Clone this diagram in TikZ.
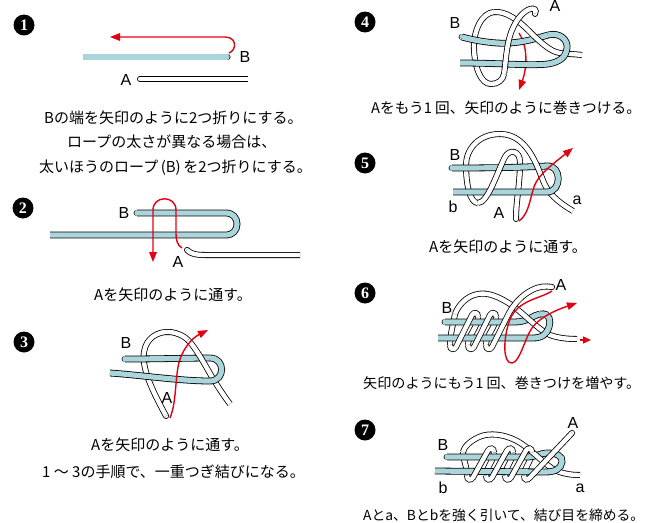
\documentclass[tikz,border=0pt]{standalone}
\usepackage{fontspec}
\setmainfont{Liberation Sans}
\newfontfamily\jpfont{Noto Sans CJK JP}
\newfontfamily\numfont{Liberation Serif}
\usetikzlibrary{arrows.meta}
\definecolor{ropeblue}{RGB}{170,213,218}
\definecolor{arrred}{RGB}{228,0,18}
\tikzset{
  brope/.style={draw=black, line width=0.8pt, double=ropeblue, double distance=5.2pt},
  wrope/.style={draw=black, line width=0.8pt, double=white, double distance=4.4pt},
  redarr/.style={draw=arrred, line width=1.4pt, -{Triangle[length=10pt,width=7.5pt]}},
  captext/.style={font=\jpfont\fontsize{15}{18}\selectfont, anchor=base west, inner sep=0pt},
  lbltext/.style={font=\fontsize{16}{18}\selectfont, anchor=base, inner sep=0pt},
  stepnum/.style={circle, fill=black, text=white, minimum size=21pt, inner sep=0pt, font=\numfont\bfseries\fontsize{16}{16}\selectfont},
}
\newcommand\rend[3]{\draw[#1, line cap=round] (#2,#3) -- ++(0.1,0);}
\newcommand\coilfront[4]{\draw[wrope] ({#1-6},{#3+#4-3}) .. controls ({#1-6},{#3+#4+2}) and ({#1-1.8},{#3+#4+2}) .. ({#1},{#3+#4-1})
   -- ({#1+#2},{#3-#4+1}) .. controls ({#1+#2+1.8},{#3-#4-2}) and ({#1+#2+6},{#3-#4-2}) .. ({#1+#2+6},{#3-#4+3});}
\newcommand\coilback[5]{\draw[wrope] ({#1+#2+6},{#3-#4+3}) .. controls ({#1+#2+6},{#3-4}) and ({#1+#5-6},{#3+4}) .. ({#1+#5-6},{#3+#4-3});}
\begin{document}
\begin{tikzpicture}[x=1pt,y=-1pt]
\fill[white] (0,0) rectangle (645,522);
\useasboundingbox (0,0) rectangle (645,522);

% step numbers
\node[stepnum] (n1) at (24,25) {1};
\node[stepnum] (n2) at (23,208) {2};
\node[stepnum] (n3) at (24,342) {3};
\node[stepnum] (n4) at (365,22) {4};
\node[stepnum] (n5) at (365,163) {5};
\node[stepnum] (n6) at (365,293) {6};
\node[stepnum] (n7) at (365,430) {7};

% ---------- step 1
\rend{brope}{227}{57}
\draw[brope] (227,57) -- (83,57);
\rend{wrope}{140}{79}
\draw[wrope] (140,79) -- (248,79);
\draw[redarr] (229,53) .. controls (237,50) and (237,37) .. (225,37) -- (110,37);
\node[lbltext] (l1b) at (245,62.7) {B};
\node[lbltext] (l1a) at (126,85.7) {A};

% ---------- step 2
\rend{brope}{137}{213}
\draw[brope] (137,213) -- (226,213) .. controls (240.7,213) and (240.7,235) .. (226,235) -- (50,235);
\rend{wrope}{187}{250}
\draw[wrope] (187,250) .. controls (191,254) and (196,255) .. (205,255) -- (300,255);
\draw[redarr] (182,248) .. controls (177,245) and (176,240) .. (176,232) -- (176,210) .. controls (176,195) and (153,195) .. (153,210) -- (153,262);
\node[lbltext] (l2b) at (124,218.7) {B};
\node[lbltext] (l2a) at (178,267.7) {A};

% ---------- step 3
\rend{wrope}{166}{416}
\draw[wrope] (166,416) .. controls (156,397) and (141,370) .. (144,352) .. controls (146,338) and (158,331) .. (170,332) .. controls (178,333) and (184,336) .. (188,340);
\rend{brope}{125}{359}
\draw[brope] (125,359) .. controls (160,359) and (190,358) .. (210,358);
\draw[wrope] (188,340) .. controls (196,348) and (205,365) .. (212,377) .. controls (218,387) and (224,396) .. (230,404);
\draw[brope] (210,358) .. controls (225.5,358) and (225.5,381) .. (210,381) .. controls (180,381) and (140,375) .. (110,373);
\draw[redarr] (170,418) .. controls (176,403) and (175,385) .. (178,367) .. controls (181,350) and (192,338) .. (208,330);
\node[lbltext] (l3b) at (126,348.7) {B};
\node[lbltext] (l3a) at (167,403.7) {A};

% ---------- step 4
\draw[wrope] (494,12) .. controls (482,13) and (473,30) .. (474,50) .. controls (475,68) and (481,84) .. (491,84) .. controls (498,84) and (503,80) .. (504,74);
\draw[redarr] (519,33) .. controls (527,45) and (528,65) .. (519,90);
\rend{brope}{462}{37}
\draw[brope] (462,37) .. controls (480,42) and (500,44) .. (510,43) .. controls (525,42) and (538,38) .. (548,35);
\draw[wrope] (582,55) .. controls (574,54) and (566,54) .. (560,53) .. controls (550,52) and (538,40) .. (528,30) .. controls (518,20) and (506,11) .. (494,12);
\draw[brope] (548,35) .. controls (560,32) and (568,40) .. (567,48) .. controls (566,57) and (560,62) .. (548,64) .. controls (530,66) and (500,63) .. (460,63);
\rend{wrope}{535}{13.5}
\draw[wrope] (504,74) .. controls (506,62) and (506,45) .. (512,30) .. controls (517,18) and (524,11) .. (530,9) .. controls (534,7.5) and (537,10) .. (535,13.5);
\node[lbltext] (l4b) at (455,28.7) {B};
\node[lbltext] (l4a) at (555,11.2) {A};

% ---------- step 5
\draw[wrope] (500,134) .. controls (478,134) and (466,150) .. (466,165) .. controls (466,185) and (470,203) .. (478,203);
\rend{wrope}{516}{219}
\draw[wrope] (516,219) .. controls (516,200) and (520,185) .. (520,162);
\rend{brope}{452}{168}
\draw[brope] (452,168) .. controls (490,168) and (520,167.5) .. (547,166);
\draw[wrope] (573,211) .. controls (563,205) and (551,197) .. (545,185) .. controls (539,173) and (530,134) .. (500,134);
\draw[brope] (547,166) .. controls (562,165) and (562,192) .. (547,192) -- (453,192);
\draw[wrope] (478,203) .. controls (488,203) and (498,170) .. (505,157) .. controls (509,149) and (520,150) .. (520,162);
\draw[redarr] (519,221) .. controls (528,215) and (530,200) .. (533,190) .. controls (536,178) and (545,170) .. (573,148);
\node[lbltext] (l5b) at (455,160.7) {B};
\node[lbltext] (l5bb) at (453,212.8) {b};
\node[lbltext] (l5a) at (499,218.7) {A};
\node[lbltext] (l5aa) at (577,204.2) {a};

% ---------- step 6
\draw[wrope] (455,314) .. controls (453,325) and (450,335) .. (450,345);
\foreach \bx in {456,474} {\coilback{\bx}{16}{331}{17}{18}}
\rend{brope}{445}{322}
\draw[brope] (445,322) -- (515,322) .. controls (528,322) and (533,315) .. (540,314);
\draw[wrope] (577,339) .. controls (567,339) and (558,338) .. (550,335) .. controls (540,331) and (525,315) .. (513,306) .. controls (500,297) and (488,292) .. (478,294) .. controls (466,296) and (458,306) .. (455,314);
\draw[brope] (540,314) .. controls (550,312.5) and (551,321) .. (549,327) .. controls (547,334) and (542,338) .. (533,338) -- (438,338);
\foreach \bx in {456,474} {\coilfront{\bx}{16}{331}{17}}
\rend{wrope}{552}{287}
\draw[wrope] (486,345) .. controls (486,350) and (490.2,350) .. (492,347) -- (508,315) .. controls (512,307) and (520,296) .. (532,290) .. controls (540,286) and (546,286) .. (552,287);
\draw[redarr] (552,291) .. controls (540,299) and (516,300) .. (509,322) .. controls (503,340) and (503,364) .. (512,363) .. controls (520,362) and (524,340) .. (532,328) .. controls (540,317) and (556,310) .. (577,303);
\draw[draw=arrred, line width=1.4pt, -{Triangle[length=8pt,width=7pt]}] (580,340) -- (591,340);
\node[lbltext] (l6b) at (447,313.7) {B};
\node[lbltext] (l6a) at (561,290.7) {A};

% ---------- step 7
\draw[wrope] (463,452) .. controls (463,460) and (467,466) .. (467,475.5);
\foreach \bx in {473,492,511} {\coilback{\bx}{15}{464}{14.5}{19}}
\rend{brope}{447}{457}
\draw[brope] (447,457) -- (528,457) .. controls (535,457) and (540,453.5) .. (546,453);
\draw[wrope] (580,475) .. controls (572,475) and (564,474) .. (557,471) .. controls (545,466) and (530,447) .. (515,440) .. controls (505,435) and (490,432) .. (479,437) .. controls (470,441) and (464,447) .. (463,452);
\draw[brope] (546,453) .. controls (556,452.5) and (563,456) .. (562,462) .. controls (561,469) and (555,472) .. (545,472) -- (435,471);
\foreach \bx in {473,492,511} {\coilfront{\bx}{15}{464}{14.5}}
\rend{wrope}{572}{433}
\draw[wrope] (524,475.5) .. controls (524,480.5) and (527.5,480.5) .. (530,477.5) -- (572,433);
\node[lbltext] (l7b) at (443,450.7) {B};
\node[lbltext] (l7a) at (573,428.7) {A};
\node[lbltext] (l7bb) at (443,493.8) {b};
\node[lbltext] (l7aa) at (580,492.2) {a};

% ---------- captions
\node[captext] (c1a) at (44,123.5) {Bの端を矢印のように2つ折りにする。};
\node[captext] (c1b) at (67,147.5) {ロープの太さが異なる場合は、};
\node[captext] (c1c) at (39,172.5) {太いほうのロープ\,(B)\,を2つ折りにする。};
\node[captext] (c2) at (94,300.5) {Aを矢印のように通す。};
\node[captext] (c3a) at (91,450.5) {Aを矢印のように通す。};
\node[captext] (c3b) at (42,477.5) {1 ～ 3の手順で、一重つぎ結びになる。};
\node[captext, font=\jpfont\fontsize{14.7}{18}\selectfont] (c4) at (371,113.5) {Aをもう1 回、矢印のように巻きつける。};
\node[captext] (c5) at (429,252.5) {Aを矢印のように通す。};
\node[captext, font=\jpfont\fontsize{14.1}{18}\selectfont] (c6) at (363,388.5) {矢印のようにもう1 回、巻きつけを増やす。};
\node[captext, font=\jpfont\fontsize{13.8}{18}\selectfont] (c7) at (363,520) {Aとa、Bとbを強く引いて、結び目を締める。};
\end{tikzpicture}
\end{document}
